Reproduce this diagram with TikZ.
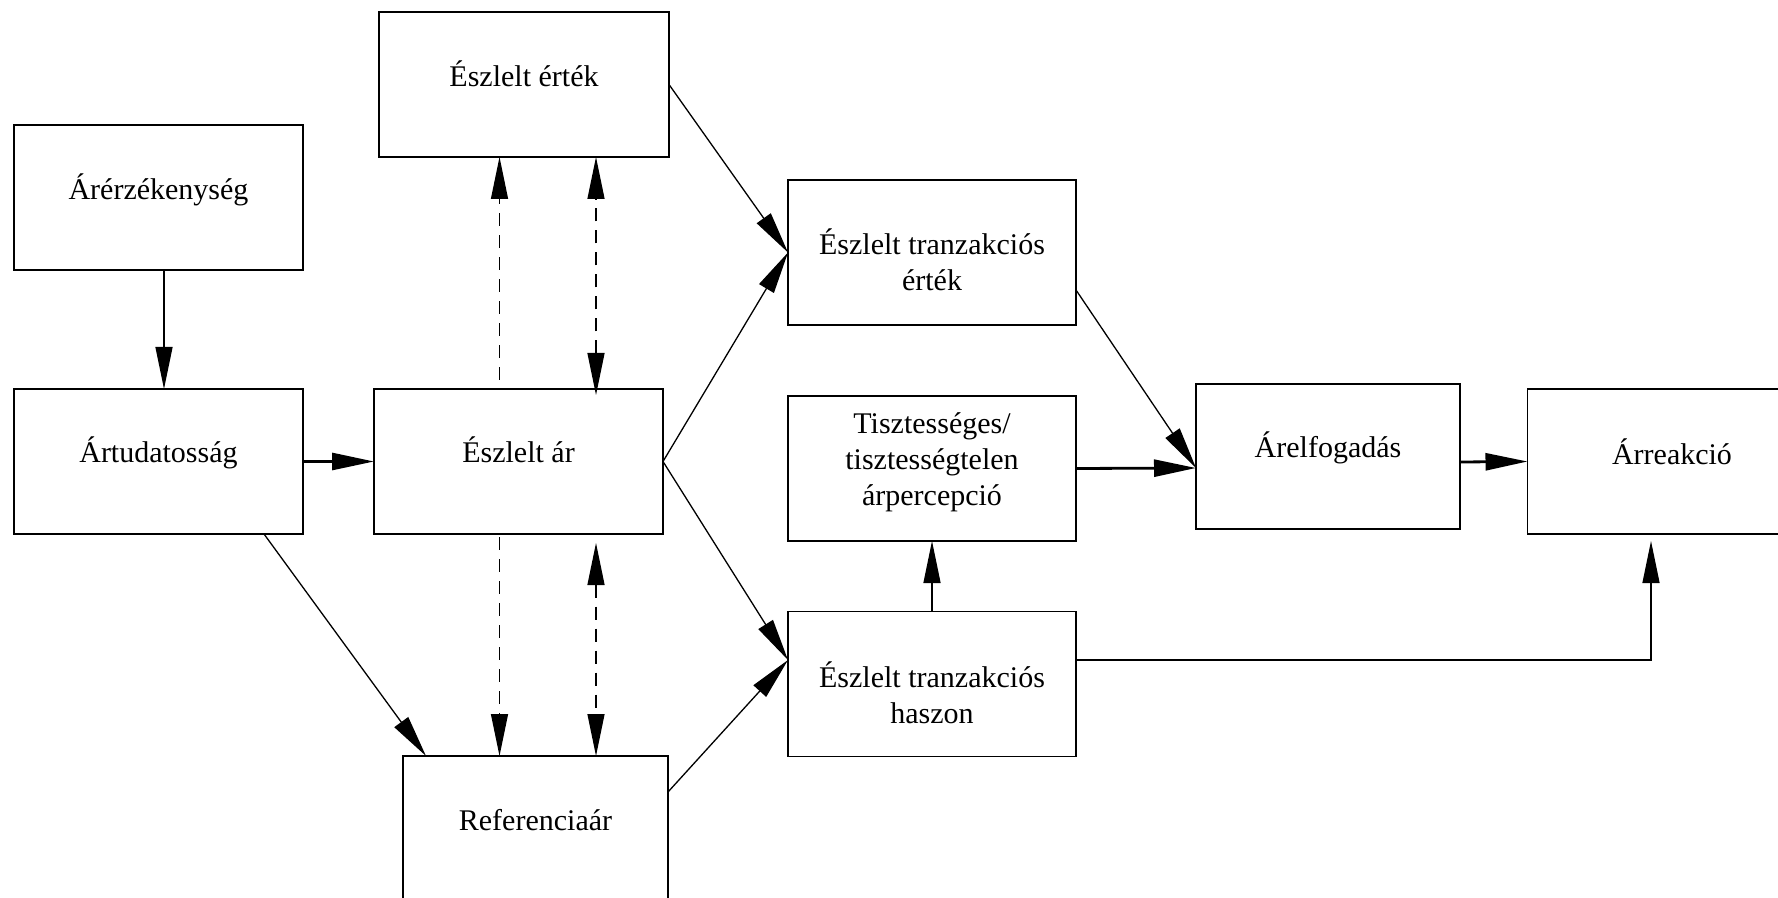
\documentclass[tikz,border=0pt]{standalone}
\usepackage{fontspec}
\setmainfont{Liberation Serif}
\usetikzlibrary{arrows.meta}
\begin{document}
\begin{tikzpicture}[x=0.5pt,y=-0.5pt,
  box/.style={draw,line width=0.9pt,minimum width=144.5pt,minimum height=72.5pt,inner sep=0pt,outer sep=0pt},
  lbl/.style={font=\fontsize{15}{18}\selectfont,align=center,anchor=base,inner sep=0pt},
  tip/.style={-{Triangle[length=21pt,width=8.5pt]}},
  conn/.style={line width=0.65pt,tip},
  strong/.style={line width=1.4pt,tip},
  dashconn/.style={line width=0.65pt,dash pattern=on 6.5pt off 4.5pt}
]
\useasboundingbox (0,0) rectangle (1778,898);

% boxes
\node[box] (sens)   at (158.5,197.5) {};
\node[box] (aware)  at (158.5,461.5) {};
\node[box,minimum width=145pt] (value) at (524,84.5) {};
\node[box] (price)  at (518.5,461.5) {};
\node[box,minimum width=132.5pt] (ref) at (535.5,828.5) {};
\node[box,minimum width=144pt] (tval) at (932,252.5) {};
\node[box,minimum width=144pt] (fair) at (932,468.5) {};
\node[box,minimum width=144pt] (gain) at (932,684) {};
\node[box,minimum width=132pt] (accept) at (1328,456.5) {};
\node[box] (react)  at (1672,461.5) {};

% labels (multi-line labels are placed by the baseline of their last line)
\node[lbl] (sens-l)   at (158.5,200) {Árérzékenység};
\node[lbl] (aware-l)  at (158.5,463) {Ártudatosság};
\node[lbl] (value-l)  at (524,87) {Észlelt érték};
\node[lbl] (price-l)  at (518.5,463) {Észlelt ár};
\node[lbl] (ref-l)    at (535.5,830) {Referenciaár};
\node[lbl] (tval-l)   at (932,291) {Észlelt tranzakciós\\érték};
\node[lbl] (fair-l)   at (932,506) {Tisztességes/\\tisztességtelen\\árpercepció};
\node[lbl] (gain-l)   at (932,723) {Észlelt tranzakciós\\haszon};
\node[lbl] (accept-l) at (1328,458) {Árelfogadás};
\node[lbl] (react-l)  at (1672,465) {Árreakció};

% solid connectors
\draw[conn] ([xshift=2.75pt]sens.south) -- ([xshift=2.75pt]aware.north);
\draw[strong] (aware.east) -- (price.west);
\draw[conn] ([xshift=52.75pt]aware.south) -- ([xshift=-54.75pt]ref.north);
\draw[conn] (value.east) -- (tval.west);
\draw[conn] (price.east) -- (tval.west);
\draw[conn] (price.east) -- ([yshift=12pt]gain.west);
\draw[conn] ([yshift=18.25pt]ref.east) -- ([yshift=12pt]gain.west);
\draw[conn] ([yshift=-18.75pt]tval.east) -- ([yshift=-5.75pt]accept.west);
\draw[strong] (fair.east) -- ([yshift=-5.75pt]accept.west);
\draw[strong] ([yshift=-2.75pt]accept.east) -- (react.west);
\draw[conn] (gain.north) -- (fair.south);
\draw[conn,shorten >=3.5pt] ([yshift=12pt]gain.east) -| ([xshift=-10.5pt]react.south);

% dashed links between perceived price, perceived value and reference price
\coordinate (dl) at (499.5,0);
\coordinate (dr) at (596,0);
\draw[dashconn,tip,shorten <=4.5pt] (price.north -| dl) -- (value.south -| dl);
\draw[dashconn,{Triangle[length=21pt,width=8.5pt]}-{Triangle[length=21pt,width=8.5pt]},shorten <=-3pt] (price.north -| dr) -- (value.south -| dr);
\draw[dashconn,tip,shorten <=1.5pt] (price.south -| dl) -- (ref.north -| dl);
\draw[dashconn,{Triangle[length=21pt,width=8.5pt]}-{Triangle[length=21pt,width=8.5pt]},shorten <=4.5pt] (price.south -| dr) -- (ref.north -| dr);
\end{tikzpicture}
\end{document}
